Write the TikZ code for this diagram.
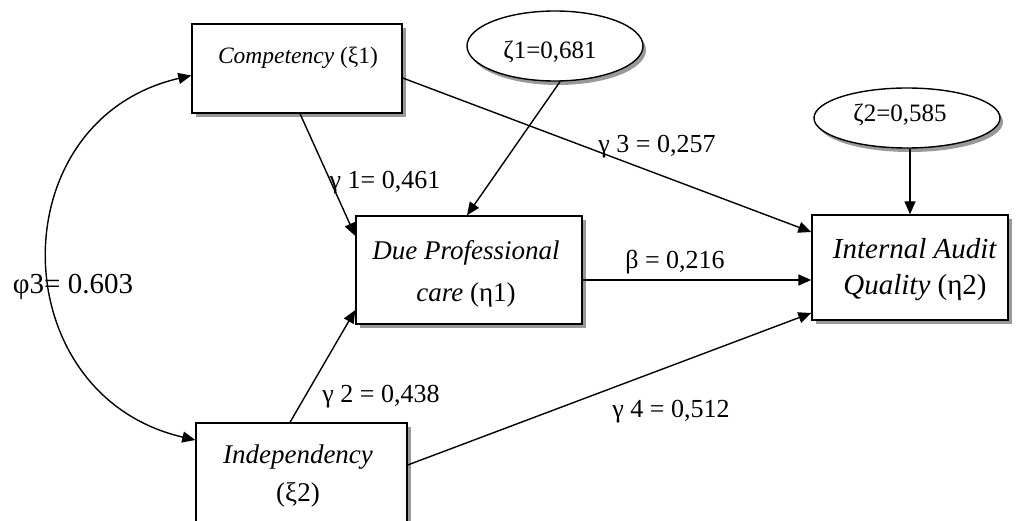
\documentclass[tikz,border=0pt]{standalone}
\usepackage{fontspec}
\setmainfont{Liberation Serif}
\usetikzlibrary{arrows.meta,shadows,shapes.geometric,calc}
\begin{document}
\begin{tikzpicture}[x=1pt,y=1pt,
  box/.style={draw,line width=1.4pt,fill=white,rectangle,inner sep=0pt,
    drop shadow={shadow xshift=4pt,shadow yshift=-4pt,fill=gray!80,opacity=1}},
  ell/.style={draw,line width=1.4pt,fill=white,ellipse,inner sep=0pt,
    drop shadow={shadow xshift=3pt,shadow yshift=-4pt,fill=gray!80,opacity=1}},
  conn/.style={line width=1.4pt,-{Triangle[length=13pt,width=11pt]}},
  lab/.style={font=\fontsize{26}{30}\selectfont,inner sep=0pt},
  btxt/.style={inner sep=0pt,align=center}]
\clip (0,0) rectangle (1020,-521);
\fill[white] (0,0) rectangle (1020,-521);
% boxes
\node[box,minimum width=210pt,minimum height=89pt] (comp) at (297,-68.5) {};
\node[box,minimum width=226pt,minimum height=108pt] (dp) at (469,-270) {};
\node[box,minimum width=196pt,minimum height=105pt] (iaq) at (910,-267.5) {};
\node[box,minimum width=211pt,minimum height=112pt] (indep) at (301.5,-479) {};
\node[ell,minimum width=176pt,minimum height=70pt] (z1) at (555,-46) {};
\node[ell,minimum width=186pt,minimum height=60pt] (z2) at (907,-118) {};
% texts
\node[btxt,font=\fontsize{23.5}{28}\selectfont] (tcomp) at (298,-58) {\textit{Competency} (ξ1)};
\node[btxt,font=\fontsize{27}{42}\selectfont] (tdp) at (466,-274) {\textit{Due Professional}\\\textit{care} (η1)};
\node[btxt,font=\fontsize{29}{36}\selectfont] (tiaq) at (915,-270) {\textit{Internal Audit}\\\textit{Quality} (η2)};
\node[btxt,font=\fontsize{27}{38}\selectfont] (tindep) at (298,-476) {\textit{Independency}\\(ξ2)};
\node[btxt,font=\fontsize{25}{30}\selectfont] (tz1) at (550,-52) {ζ1=0,681};
\node[btxt,font=\fontsize{25}{30}\selectfont] (tz2) at (900,-115) {ζ2=0,585};
% connectors
\draw[conn] ([xshift=3pt]comp.south) -- ([yshift=34pt]dp.west);
\draw[conn] ([xshift=5pt]z1.south) -- ([xshift=-2pt]dp.north);
\draw[conn] ([yshift=-9.5pt]comp.east) -- ([yshift=35.5pt]iaq.west);
\coordinate (bstart) at ([yshift=-10pt]dp.east);
\draw[conn] (bstart) -- (bstart -| iaq.west);
\draw[conn] ([xshift=-11.5pt]indep.north) -- ([yshift=-40pt]dp.west);
\draw[conn] ([yshift=14pt]indep.east) -- ([yshift=-45.5pt]iaq.west);
\draw[conn] (iaq.north |- z2.south) -- (iaq.north);
\draw[line width=1.4pt,{Triangle[length=13pt,width=11pt]}-{Triangle[length=13pt,width=11pt]}]
  ([yshift=-7pt]comp.west) to[out=193,in=167,looseness=1.39] ([yshift=39pt]indep.west);
% labels
\node[lab] (g1) at (385,-183) {γ 1= 0,461};
\node[lab] (g3) at (657,-147) {γ 3 = 0,257};
\node[lab] (b) at (675,-262) {β = 0,216};
\node[lab] (g2) at (381,-397) {γ 2 = 0,438};
\node[lab] (g4) at (671,-412) {γ 4 = 0,512};
\node[lab,font=\fontsize{29}{33}\selectfont] (phi) at (73,-287) {φ3= 0.603};
\end{tikzpicture}
\end{document}
